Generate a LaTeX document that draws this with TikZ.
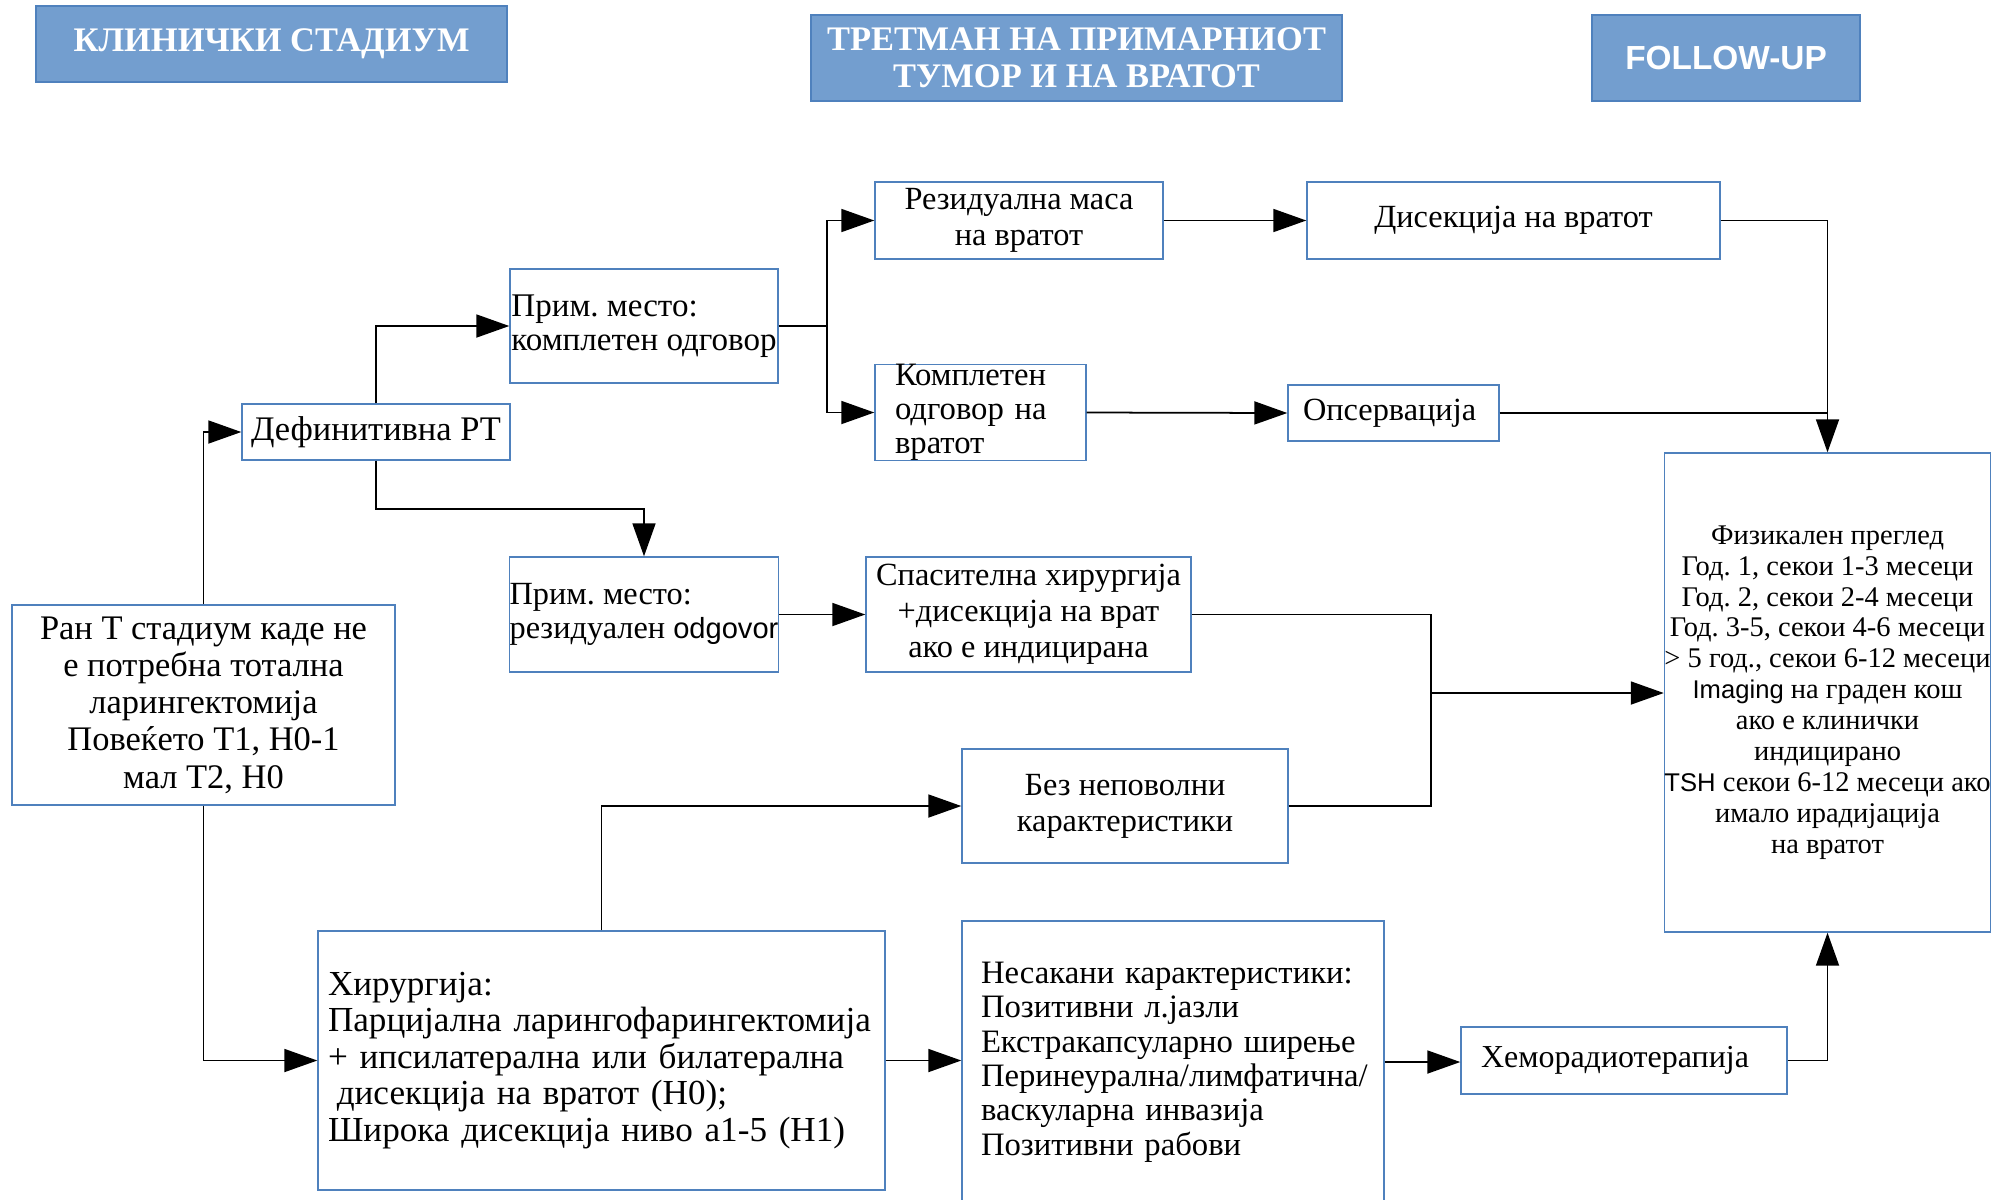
\documentclass[tikz,border=0pt]{standalone}
\usepackage{fontspec}
\setmainfont{Liberation Serif}
\setsansfont{Liberation Sans}
\usetikzlibrary{arrows.meta}
\definecolor{headerColor}{RGB}{115,158,207}
\definecolor{headerEdge}{RGB}{79,129,189}
\definecolor{boxEdge}{RGB}{79,129,189}
\frenchspacing
\makeatletter
\newcommand{\latinword}[1]{{\sffamily\fontsize{\dimexpr 0.9\dimexpr\f@size pt\relax\relax}{\f@baselineskip}\selectfont #1}}
\makeatother

\begin{document}
\begin{tikzpicture}[x=0.1mm, y=-0.1mm,
    box/.style={rectangle, draw=boxEdge, line width=0.4pt, fill=white, inner sep=0pt, align=center, font=\fontsize{9.2}{10.2}\selectfont},
    leftbox/.style={box, align=left},
    header/.style={rectangle, draw=headerEdge, line width=0.6pt, fill=headerColor, text=white, inner sep=0pt, align=center, font=\fontsize{9.8}{10.6}\selectfont\bfseries},
    line/.style={draw=black, line width=0.5pt},
    arr/.style={line, -{Triangle[length=3.3mm, width=2.3mm]}}]
    \clip (0,0) rectangle (2011,1199);

    % Column headers
    \node[header, minimum width=47.1mm, minimum height=7.6mm] (hdrStage) at (271.5,44) {КЛИНИЧКИ СТАДИУМ};
    \node[header, minimum width=53.1mm, minimum height=8.6mm] (hdrTreat) at (1076.5,58) {ТРЕТМАН НА ПРИМАРНИОТ\\ТУМОР И НА ВРАТОТ};
    \node[header, minimum width=26.8mm, minimum height=8.6mm, font=\fontsize{9.5}{10}\selectfont\sffamily\bfseries] (hdrFollow) at (1726,58) {FOLLOW-UP};

    % Stage and definitive RT
    \node[box, minimum width=38.3mm, minimum height=20mm, font=\fontsize{9.8}{10.6}\selectfont] (stage) at (203.5,705) {Ран Т стадиум каде не\\е потребна тотална\\ларингектомија\\Повеќето Т1, Н0-1\\мал Т2, Н0};
    \node[box, minimum width=26.8mm, minimum height=5.6mm, font=\fontsize{9.8}{10.6}\selectfont] (defrt) at (376,432) {Дефинитивна РТ};
    \node[leftbox, minimum width=26.8mm, minimum height=11.4mm, font=\fontsize{9.4}{9.6}\selectfont] (primcr) at (644,326) {Прим. место:\\комплетен одговор};
    \node[leftbox, minimum width=26.8mm, minimum height=11.5mm, font=\fontsize{9.2}{9.6}\selectfont] (primres) at (644,614.5) {Прим. место:\\резидуален \latinword{odgovor}};

    % Neck response
    \node[box, minimum width=28.8mm, minimum height=7.7mm] (resmass) at (1019,220.5) {Резидуална маса\\на вратот};
    \node[leftbox, text width=17.1mm, inner xsep=2mm, minimum height=9.5mm, font=\fontsize{9.3}{9.7}\selectfont] (neckcr) at (980.5,412.5) {Комплетен\\одговор на\\вратот};
    \node[box, minimum width=41.3mm, minimum height=7.7mm] (dissect) at (1513.5,220.5) {Дисекција на вратот};
    \node[leftbox, text width=18.1mm, inner xsep=1.5mm, minimum height=5.6mm] (observ) at (1393.5,413) {Опсервација};
    \node[box, minimum width=32.5mm, minimum height=11.5mm] (salvage) at (1028.5,614.5) {Спасителна хирургија\\+дисекција на врат\\ако е индицирана};
    \node[box, minimum width=32.6mm, minimum height=11.4mm] (nofeat) at (1125,806) {Без неповолни\\карактеристики};

    % Surgery branch
    \node[leftbox, text width=54.7mm, inner xsep=1mm, minimum height=25.9mm, font=\fontsize{10}{10.4}\selectfont] (surgery) at (601.5,1060.5) {Хирургија:\\Парцијална ларингофарингектомија\\+ ипсилатерална или билатерална\\\hspace*{0.25em}дисекција на вратот (Н0);\\Широка дисекција ниво а1-5 (Н1)};
    \node[leftbox, text width=38.4mm, inner xsep=1.9mm, minimum height=28.2mm, font=\fontsize{9.3}{9.8}\selectfont] (adverse) at (1173,1062) {Несакани карактеристики:\\Позитивни л.јазли\\Екстракапсуларно ширење\\Перинеурална/лимфатична/\\васкуларна инвазија\\Позитивни рабови};
    \node[leftbox, text width=28.6mm, inner xsep=2mm, minimum height=6.7mm, font=\fontsize{9.1}{9.6}\selectfont] (chemo) at (1624,1060.5) {Хеморадиотерапија};

    % Follow-up
    \node[box, minimum width=32.5mm, minimum height=47.9mm, font=\fontsize{8.1}{8.8}\selectfont] (follow) at (1827.5,692.5) {Физикален преглед\\Год. 1, секои 1-3 месеци\\Год. 2, секои 2-4 месеци\\Год. 3-5, секои 4-6 месеци\\> 5 год., секои 6-12 месеци\\\latinword{Imaging} на граден кош\\ако е клинички\\индицирано\\\latinword{TSH} секои 6-12 месеци ако\\имало ирадијација\\на вратот};

    % Junctions
    \coordinate (drop) at (644,509);
    \coordinate (forkA) at (827,326);
    \coordinate (forkB) at (1431,693);

    \draw[arr] (stage.north) |- (defrt.west);
    \draw[arr] (stage.south) |- (surgery.west);
    \draw[arr] (defrt.north) |- (primcr.west);
    \draw[arr] (defrt.south) |- (drop) -- (primres.north);
    \draw[line] (primcr.east) -- (forkA);
    \draw[arr] (forkA) |- (resmass.west);
    \draw[arr] (forkA) |- (neckcr.west);
    \draw[arr] (resmass.east) -- (dissect.west);
    \draw[arr] (neckcr.east) -- (observ.west);
    \draw[arr] (dissect.east) -| (follow.north);
    \draw[line] (observ.east) -- (observ.east -| follow.north);
    \draw[arr] (primres.east) -- (salvage.west);
    \draw[line] (salvage.east) -| (forkB);
    \draw[line] (nofeat.east) -| (forkB);
    \draw[arr] (forkB) -- (forkB -| follow.west);
    \draw[arr] (surgery.north) |- (nofeat.west);
    \draw[arr] (surgery.east) -- (surgery.east -| adverse.west);
    \draw[arr] (adverse.east) -- (adverse.east -| chemo.west);
    \draw[arr] (chemo.east) -| (follow.south);
\end{tikzpicture}
\end{document}
